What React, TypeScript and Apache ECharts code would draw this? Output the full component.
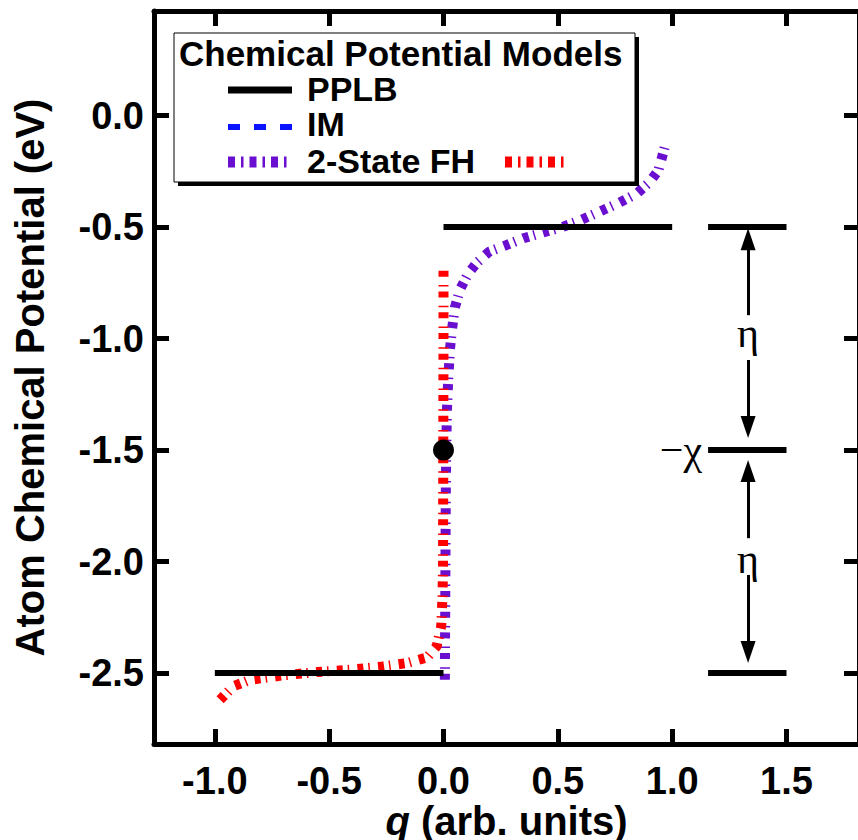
import React, { useEffect, useRef } from "react";
import * as echarts from "echarts";

// ---- data ----
const qTicks = [-1.0, -0.5, 0.0, 0.5, 1.0, 1.5];
const muTicks = [0.0, -0.5, -1.0, -1.5, -2.0, -2.5];

const pplbLowQ = [-1.0, 0.0];
const pplbLowMu = [-2.5, -2.5];
const pplbHighQ = [0.0, 1.0];
const pplbHighMu = [-0.5, -0.5];

// 2-State FH, q > 0 branch (purple)
const fhPosQ = [0.006, 0.007, 0.008, 0.009, 0.01, 0.012, 0.015, 0.02, 0.028, 0.037, 0.05, 0.072, 0.107, 0.146, 0.2, 0.277, 0.35, 0.45, 0.52, 0.597, 0.684, 0.77, 0.845, 0.9, 0.94, 0.96, 0.968];
const fhPosMu = [-2.53, -2.3, -2.1, -1.9, -1.7, -1.5, -1.32, -1.2, -1.05, -0.96, -0.86, -0.78, -0.71, -0.66, -0.61, -0.58, -0.55, -0.52, -0.5, -0.47, -0.43, -0.39, -0.35, -0.3, -0.245, -0.17, -0.14];

// 2-State FH, q < 0 branch (red)
const fhNegQ = [-0.977, -0.92, -0.846, -0.7, -0.55, -0.41, -0.265, -0.16, -0.072, -0.03, -0.01, -0.004, -0.002, -0.001, 0.0, 0.0];
const fhNegMu = [-2.62, -2.56, -2.53, -2.51, -2.495, -2.485, -2.47, -2.455, -2.43, -2.38, -2.29, -2.15, -2.0, -1.5, -1.0, -0.68];

// annotation (eta / chi construction)
const levelMu = [-0.5, -1.5, -2.5];
const levelQ = [1.157, 1.5];
const arrowQ = 1.332;
const arrowSegments: [number, number, boolean][] = [
  [-0.554, -0.895, true],
  [-1.096, -1.397, false],
  [-1.594, -1.895, true],
  [-2.06, -2.406, false],
];
const etaMu = [-0.975, -1.99];
const chiQ = 1.157;
const chiMu = -1.5;
const dotQ = [0.0];
const dotMu = [-1.5];

const SANS = '"Liberation Sans", Arial, Helvetica, sans-serif';
const SERIF = '"Liberation Serif", "Times New Roman", serif';
const PURPLE = "#6a0fd0";
const RED = "#ff0000";
const BLUE = "#0a14ff";
const FS = 38;
const NFS = 40;

const zip = (a: number[], b: number[]) => a.map((v, i) => [v, b[i]]);

export default function App() {
  const ref = useRef<HTMLDivElement>(null);
  useEffect(() => {
    if (!ref.current) return;
    const chart = echarts.init(ref.current, undefined, { renderer: "svg" });
    const axisLine = { show: true, onZero: false, lineStyle: { color: "#000", width: 5 } };
    const tickStyle = { color: "#000", width: 5 };
    const fhDash = [6, 5, 1.5, 8.2];

    const series: any[] = [
      {
        type: "line", name: "2-State FH +", data: zip(fhPosQ, fhPosMu), showSymbol: false,
        lineStyle: { color: PURPLE, width: 10, type: fhDash, cap: "butt" }, z: 2,
      },
      {
        type: "line", name: "2-State FH -", data: zip(fhNegQ, fhNegMu), showSymbol: false,
        lineStyle: { color: RED, width: 10, type: fhDash, cap: "butt" }, z: 3,
      },
      {
        type: "line", name: "PPLB low", data: zip(pplbLowQ, pplbLowMu), showSymbol: false,
        lineStyle: { color: "#000", width: 6 }, z: 4,
      },
      {
        type: "line", name: "PPLB high", data: zip(pplbHighQ, pplbHighMu), showSymbol: false,
        lineStyle: { color: "#000", width: 6 }, z: 4,
      },
      ...levelMu.map((m, i) => ({
        type: "line", name: "level" + i, data: levelQ.map((q) => [q, m]), showSymbol: false,
        lineStyle: { color: "#000", width: 6 }, z: 4,
        markLine: i === 0 ? {
          silent: true, animation: false, label: { show: false },
          lineStyle: { color: "#000", width: 3, type: "solid", opacity: 1 },
          itemStyle: { color: "#000", opacity: 1 },
          data: arrowSegments.map(([a, b, arrowAtStart]) => [
            { coord: [arrowQ, a], symbol: arrowAtStart ? "triangle" : "none", symbolSize: [15, 22] },
            { coord: [arrowQ, b], symbol: arrowAtStart ? "none" : "triangle", symbolSize: [15, 22] },
          ]),
        } : undefined,
      })),
      {
        type: "scatter", name: "labels", symbolSize: 0, z: 5,
        itemStyle: { opacity: 1 },
        data: [
          ...etaMu.map((m) => ({ value: [arrowQ, m], name: "η", label: { position: "inside" } })),
          { value: [chiQ, chiMu], name: "−χ", label: { position: "left", distance: 6 } },
        ],
        label: { show: true, formatter: "{b}", color: "#000", opacity: 1, fontSize: 42, fontFamily: SERIF },
      },
      {
        type: "scatter", name: "dot", data: zip(dotQ, dotMu), symbol: "circle", symbolSize: 21,
        itemStyle: { color: "#000", opacity: 1 }, z: 6,
      },
    ];

    const legendX = 174, legendY = 33;
    const sampleX0 = 228, sampleX1 = 292;
    const legendFont = `bold 34px ${SANS}`;
    chart.setOption({
      animation: false,
      backgroundColor: "#fff",
      grid: { left: 154, top: 11, width: 705, height: 733, containLabel: false, outerBoundsMode: "none" },
      xAxis: [
        {
          type: "value", position: "bottom", min: -1.266, max: 1.817,
          axisLine,
          axisTick: { show: true, inside: true, length: 15, lineStyle: tickStyle, customValues: qTicks },
          axisLabel: {
            customValues: qTicks, formatter: (v: number) => v.toFixed(1), margin: 20, lineHeight: 34,
            color: "#000", fontSize: FS, fontWeight: "bold", fontFamily: SANS,
          },
          splitLine: { show: false },
          name: "{i|q} (arb. units)", nameLocation: "middle", nameGap: 59, nameMoveOverlap: false,
          nameTextStyle: {
            color: "#000", fontSize: NFS, lineHeight: 36, fontWeight: "bold", fontFamily: SANS,
            rich: { i: { fontStyle: "italic", fontSize: NFS, lineHeight: 36, fontWeight: "bold", fontFamily: SANS, color: "#000" } },
          },
        },
        {
          type: "value", position: "top", min: -1.266, max: 1.817,
          axisLine,
          axisTick: { show: true, inside: true, length: 15, lineStyle: tickStyle, customValues: qTicks },
          axisLabel: { show: false },
          splitLine: { show: false },
        },
      ],
      yAxis: [
        {
          type: "value", position: "left", min: -2.818, max: 0.469,
          axisLine,
          axisTick: { show: true, inside: true, length: 15, lineStyle: tickStyle, customValues: muTicks },
          axisLabel: {
            customValues: muTicks, formatter: (v: number) => v.toFixed(1), margin: 10,
            color: "#000", fontSize: FS, fontWeight: "bold", fontFamily: SANS,
          },
          splitLine: { show: false },
          name: "Atom Chemical Potential (eV)", nameLocation: "middle", nameGap: 104, nameRotate: 90, nameMoveOverlap: false,
          nameTextStyle: { color: "#000", fontSize: NFS, fontWeight: "bold", fontFamily: SANS },
        },
        {
          type: "value", position: "right", min: -2.818, max: 0.469,
          axisLine,
          axisTick: { show: true, inside: true, length: 15, lineStyle: tickStyle, customValues: muTicks },
          axisLabel: { show: false },
          splitLine: { show: false },
        },
      ],
      series,
      graphic: [
        { type: "rect", z: 100, shape: { x: legendX + 4, y: legendY + 4, width: 461, height: 149 }, style: { fill: "#000" } },
        { type: "rect", z: 101, shape: { x: legendX, y: legendY, width: 461, height: 149 }, style: { fill: "#fff", stroke: "#000", lineWidth: 1 } },
        { type: "text", z: 102, x: 179, y: 53, style: { text: "Chemical Potential Models", fill: "#000", font: `bold 35px ${SANS}`, verticalAlign: "middle" } },
        { type: "line", z: 102, shape: { x1: sampleX0, y1: 90, x2: sampleX1, y2: 90 }, style: { stroke: "#000", lineWidth: 7 } },
        { type: "text", z: 102, x: 307, y: 89, style: { text: "PPLB", fill: "#000", font: legendFont, verticalAlign: "middle" } },
        { type: "line", z: 102, shape: { x1: sampleX0, y1: 127, x2: sampleX1, y2: 127 }, style: { stroke: BLUE, lineWidth: 6, lineDash: [12, 14] } },
        { type: "text", z: 102, x: 307, y: 124, style: { text: "IM", fill: "#000", font: legendFont, verticalAlign: "middle" } },
        { type: "line", z: 102, shape: { x1: sampleX0, y1: 162, x2: sampleX1, y2: 162 }, style: { stroke: PURPLE, lineWidth: 11, lineDash: [7, 6, 2.5, 6] } },
        { type: "text", z: 102, x: 307, y: 161, style: { text: "2-State FH", fill: "#000", font: legendFont, verticalAlign: "middle" } },
        { type: "line", z: 102, shape: { x1: 505, y1: 162, x2: 569, y2: 162 }, style: { stroke: RED, lineWidth: 11, lineDash: [7, 6, 2.5, 6] } },
      ],
    });
    return () => chart.dispose();
  }, []);

  return (
    <div style={{ position: "fixed", left: 0, top: 0, width: 858, height: 840, overflow: "hidden", background: "#fff" }}>
      <div ref={ref} style={{ width: 870, height: 840 }} />
    </div>
  );
}
